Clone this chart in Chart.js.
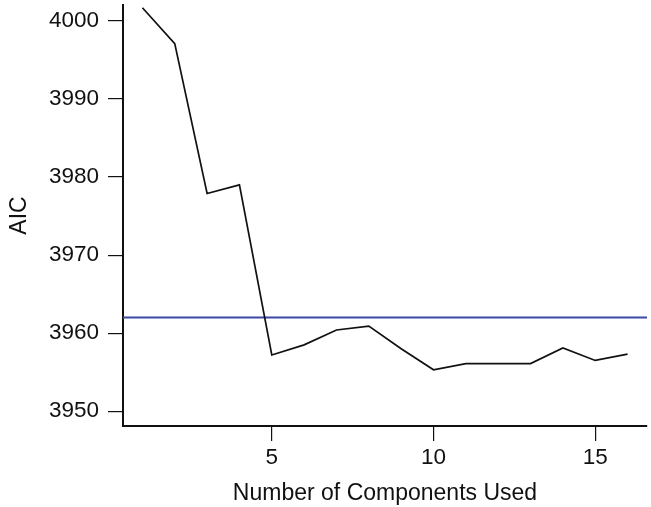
<!DOCTYPE html>
<html>
<head>
<meta charset="utf-8">
<script src="https://cdn.jsdelivr.net/npm/chart.js@4"></script>
<style>
  html, body { margin: 0; padding: 0; background: #fff; }
  #wrap { width: 651px; height: 507px; }
</style>
</head>
<body>
<div id="wrap"><canvas id="aicchart"></canvas></div>
<script>
'use strict';

// number of components vs AIC
const components = [1, 2, 3, 4, 5, 6, 7, 8, 9, 10, 11, 12, 13, 14, 15, 16];
const aic = [4001.7, 3997.1, 3977.9, 3979.0, 3957.2, 3958.5, 3960.4, 3960.9,
             3958.0, 3955.3, 3956.1, 3956.1, 3956.1, 3958.1, 3956.5, 3957.3];
const refLine = 3962;
const xTicks = [5, 10, 15];
const yTicks = [3950, 3960, 3970, 3980, 3990, 4000];

const black = "#111111";
const blue = "#3a48a8";

var points = components.map((c, i) => ({x: c, y: aic[i]}));

// horizontal reference line across the plot area
const refLinePlugin = {
    id: 'refLine',
    beforeDatasetsDraw(chart){
        var ctx = chart.ctx;
        var area = chart.chartArea;
        var y = chart.scales.y.getPixelForValue(refLine);
        ctx.save();
        ctx.strokeStyle = blue;
        ctx.lineWidth = 2;
        ctx.beginPath();
        ctx.moveTo(area.left, y);
        ctx.lineTo(area.right, y);
        ctx.stroke();
        ctx.restore();
    }
};

const tickFont = { family: "'Liberation Sans', Arial, sans-serif", size: 22.5 };
const titleFont = { family: "'Liberation Sans', Arial, sans-serif", size: 23 };

const ctx = document.getElementById('aicchart').getContext('2d');
var aicchart = new Chart(ctx, {
    type: 'line',
    data: {
        datasets: [{
            data: points,
            borderColor: black,
            borderWidth: 1.7,
            pointRadius: 0,
            fill: false,
            tension: 0
        }]
    },
    options: {
        responsive: true,
        maintainAspectRatio: false,
        animation: false,
        layout: { padding: { top: 5, right: 4, left: 0, bottom: 0 } },
        plugins: {
            legend: { display: false },
            tooltip: { enabled: false }
        },
        scales: {
            x: {
                type: 'linear',
                min: 0.4,
                max: 16.6,
                afterBuildTicks: s => { s.ticks = xTicks.map(v => ({value: v})); },
                afterFit: s => { s.height = 81; s.paddingLeft = 0; s.paddingRight = 0; },
                grid: { drawOnChartArea: false, drawTicks: true, tickLength: 15, color: black, lineWidth: 1.2 },
                border: { display: true, color: black, width: 2 },
                ticks: { color: black, font: tickFont, padding: 3, maxRotation: 0, callback: v => String(v) },
                title: { display: true, text: 'Number of Components Used', color: black, font: titleFont, padding: { top: 0, bottom: 0 } }
            },
            y: {
                type: 'linear',
                min: 3948.1,
                max: 4002.05,
                afterBuildTicks: s => { s.ticks = yTicks.map(v => ({value: v})); },
                afterFit: s => { s.width = 123; s.paddingTop = 0; s.paddingBottom = 0; },
                grid: { drawOnChartArea: false, drawTicks: true, tickLength: 15, color: black, lineWidth: 1.2 },
                border: { display: true, color: black, width: 2 },
                ticks: { color: black, font: tickFont, padding: 9, callback: v => String(v) },
                title: { display: true, text: 'AIC', color: black, font: titleFont, padding: { top: 6, bottom: 0 } }
            }
        }
    },
    plugins: [refLinePlugin]
});
</script>
</body>
</html>
